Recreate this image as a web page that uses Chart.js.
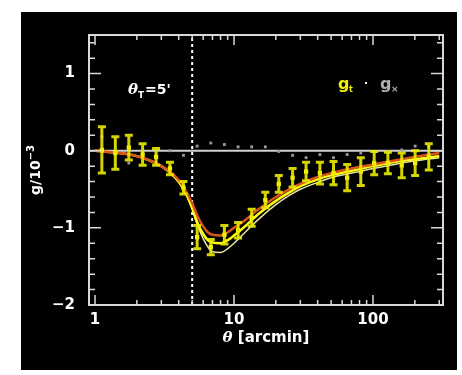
<!DOCTYPE html>
<html>
<head>
<meta charset="utf-8">
<script src="https://cdn.jsdelivr.net/npm/chart.js@4.4.1/dist/chart.umd.min.js"></script>
<style>
  html, body { margin: 0; padding: 0; background: #fff; width: 462px; height: 375px; overflow: hidden; }
  #panel { position: absolute; left: 21px; top: 12px; width: 436px; height: 358px; background: #000; }
  canvas { display: block; }
</style>
</head>
<body>
<div id="panel"><canvas id="c" width="436" height="358"></canvas></div>
<script>
// Measured tangential shear g_t and cross shear g_x (units of 1e-3) versus separation theta [arcmin]
const theta = [1.12, 1.40, 1.75, 2.20, 2.75, 3.46, 4.33, 5.43, 6.81, 8.53, 10.7, 13.4, 16.8,
               21.0, 26.4, 33.0, 41.5, 52.0, 65.2, 81.7, 102, 128, 161, 201, 252];
const gt    = [0.01, -0.03, 0.04, -0.05, -0.08, -0.23, -0.48, -1.12, -1.25, -1.09, -1.03, -0.87, -0.64,
               -0.43, -0.35, -0.27, -0.29, -0.29, -0.35, -0.27, -0.16, -0.16, -0.19, -0.16, -0.08];
const gtErr = [0.30, 0.21, 0.16, 0.14, 0.11, 0.08, 0.08, 0.15, 0.10, 0.12, 0.10, 0.11, 0.10,
               0.11, 0.12, 0.12, 0.14, 0.15, 0.17, 0.18, 0.15, 0.14, 0.16, 0.16, 0.17];
const gx    = [0.18, -0.04, -0.16, -0.03, 0.00, 0.00, -0.06, 0.06, 0.10, 0.08, 0.05, 0.05, 0.05,
               -0.01, -0.06, -0.09, -0.05, -0.09, -0.05, -0.03, -0.01, -0.01, 0.01, 0.06, 0.05];

// Model curves sampled in theta
const modelTheta  = [1, 1.5, 2, 2.5, 3, 3.5, 4, 4.5, 5, 5.5, 6, 6.5, 7, 8, 9, 10, 12, 15, 20, 25, 30, 40, 50, 70, 100, 150, 200, 300];
const modelRed    = [0, -0.03, -0.07, -0.13, -0.20, -0.28, -0.38, -0.52, -0.68, -0.86, -0.98, -1.06, -1.09, -1.10, -1.06, -1.00,
                     -0.90, -0.76, -0.60, -0.50, -0.43, -0.34, -0.29, -0.23, -0.18, -0.12, -0.08, -0.03];
const modelYellow = [0, -0.03, -0.07, -0.13, -0.20, -0.29, -0.40, -0.55, -0.74, -0.95, -1.08, -1.16, -1.19, -1.20, -1.16, -1.10,
                     -0.98, -0.82, -0.65, -0.54, -0.46, -0.37, -0.32, -0.26, -0.20, -0.14, -0.11, -0.07];
const modelPale   = [0, -0.03, -0.07, -0.13, -0.20, -0.29, -0.41, -0.56, -0.76, -0.98, -1.14, -1.25, -1.31, -1.32, -1.27, -1.20,
                     -1.06, -0.89, -0.70, -0.58, -0.50, -0.41, -0.35, -0.29, -0.23, -0.17, -0.13, -0.09];

// Axis ticks
const xMajor = [1, 10, 100];
const xMinor = [2, 3, 4, 5, 6, 7, 8, 9, 20, 30, 40, 50, 60, 70, 80, 90, 200, 300];
const yMajor = [-2, -1, 0, 1];
const yMinor = [-1.8, -1.6, -1.4, -1.2, -0.8, -0.6, -0.4, -0.2, 0.2, 0.4, 0.6, 0.8, 1.2, 1.4];
const thetaT = 5;

const pts = (xs, ys) => xs.map((v, i) => ({ x: v, y: ys[i] }));
const FONT = '"DejaVu Sans", sans-serif';
const AXIS = '#d9d9d9';

const decorations = {
  id: 'decorations',
  beforeDatasetsDraw(chart) {
    const { ctx, chartArea: a, scales: { x, y } } = chart;
    ctx.save();
    // zero line
    const y0 = y.getPixelForValue(0);
    ctx.strokeStyle = '#d0d0d0';
    ctx.lineWidth = 2;
    ctx.beginPath(); ctx.moveTo(a.left, y0); ctx.lineTo(a.right, y0); ctx.stroke();
    // vertical dotted line at theta_T
    const xt = x.getPixelForValue(thetaT);
    ctx.strokeStyle = '#ffffff';
    ctx.setLineDash([3, 3]);
    ctx.beginPath(); ctx.moveTo(xt, a.bottom); ctx.lineTo(xt, a.top); ctx.stroke();
    ctx.restore();
  },
  afterDatasetsDraw(chart) {
    const { ctx, scales: { x, y } } = chart;
    ctx.save();
    // error bars on g_t
    ctx.strokeStyle = 'rgba(235,235,0,0.9)';
    ctx.lineWidth = 3;
    for (let i = 0; i < theta.length; i++) {
      const px = x.getPixelForValue(theta[i]);
      const top = y.getPixelForValue(gt[i] + gtErr[i]);
      const bot = y.getPixelForValue(gt[i] - gtErr[i]);
      ctx.beginPath();
      ctx.moveTo(px, top); ctx.lineTo(px, bot);
      ctx.moveTo(px - 4, top); ctx.lineTo(px + 4, top);
      ctx.moveTo(px - 4, bot); ctx.lineTo(px + 4, bot);
      ctx.stroke();
    }
    ctx.restore();
  },
  afterDraw(chart) {
    const { ctx, chartArea: a, scales: { x, y } } = chart;
    ctx.save();
    // frame
    ctx.strokeStyle = AXIS;
    ctx.lineWidth = 2;
    ctx.strokeRect(a.left, a.top, a.right - a.left, a.bottom - a.top);
    // inward ticks
    ctx.lineWidth = 1.5;
    ctx.beginPath();
    const xt = (v, len) => {
      const px = x.getPixelForValue(v);
      ctx.moveTo(px, a.bottom); ctx.lineTo(px, a.bottom - len);
      ctx.moveTo(px, a.top); ctx.lineTo(px, a.top + len);
    };
    const yt = (v, len) => {
      const py = y.getPixelForValue(v);
      ctx.moveTo(a.left, py); ctx.lineTo(a.left + len, py);
      ctx.moveTo(a.right, py); ctx.lineTo(a.right - len, py);
    };
    xMajor.forEach(v => xt(v, 10));
    xMinor.forEach(v => xt(v, 5));
    yMajor.forEach(v => yt(v, 12));
    yMinor.forEach(v => yt(v, 6));
    ctx.stroke();

    // axis titles
    ctx.fillStyle = '#ffffff';
    ctx.textBaseline = 'alphabetic';
    const cx = (a.left + a.right) / 2;
    ctx.font = 'italic bold 15px "DejaVu Serif", serif';
    const wTh = ctx.measureText('θ').width;
    ctx.font = 'bold 15px ' + FONT;
    const wRest = ctx.measureText(' [arcmin]').width;
    let sx = cx - (wTh + wRest) / 2;
    ctx.font = 'italic bold 15px "DejaVu Serif", serif';
    ctx.fillText('θ', sx, 330);
    ctx.font = 'bold 15px ' + FONT;
    ctx.fillText(' [arcmin]', sx + wTh, 330);

    // y title, rotated
    ctx.save();
    ctx.translate(19, (a.top + a.bottom) / 2);
    ctx.rotate(-Math.PI / 2);
    ctx.font = 'bold 14px ' + FONT;
    const main = 'g/10';
    ctx.font = 'bold 10px ' + FONT;
    const wSup = ctx.measureText('−3').width;
    ctx.font = 'bold 14px ' + FONT;
    const wMain = ctx.measureText(main).width;
    const y0 = -(wMain + wSup) / 2;
    ctx.fillText(main, y0, 0);
    ctx.font = 'bold 10px ' + FONT;
    ctx.fillText('−3', y0 + wMain, -6);
    ctx.restore();

    // theta_T annotation
    ctx.font = 'italic bold 15px "DejaVu Serif", serif';
    ctx.fillText('θ', 107, 82);
    ctx.font = 'bold 9px ' + FONT;
    ctx.fillText('T', 117, 86);
    ctx.font = 'bold 14px ' + FONT;
    ctx.fillText("=5'", 124, 82);

    // legend: g_t . g_x
    ctx.font = 'bold 16px ' + FONT;
    ctx.fillStyle = '#f0f000';
    ctx.fillText('g', 317, 77);
    ctx.font = 'bold 8px ' + FONT;
    ctx.fillText('t', 328, 80);
    ctx.fillStyle = '#ffffff';
    ctx.fillRect(344, 70, 2, 2);
    ctx.fillStyle = '#b0b0b0';
    ctx.font = 'bold 16px ' + FONT;
    ctx.fillText('g', 359, 77);
    ctx.font = 'bold 9px ' + FONT;
    ctx.fillText('×', 370, 80);
    ctx.restore();
  }
};

new Chart(document.getElementById('c'), {
  data: {
    datasets: [
      { type: 'scatter', label: 'g_t', data: pts(theta, gt), order: 0,
        pointStyle: 'rect', pointRadius: 3, backgroundColor: '#ffff00', borderColor: '#ffff00', borderWidth: 0 },
      { type: 'scatter', label: 'g_x', data: pts(theta, gx), order: 1,
        pointStyle: 'rect', pointRadius: 2, backgroundColor: '#9a9a9a', borderColor: '#9a9a9a', borderWidth: 0 },
      { type: 'line', label: 'model 1', data: pts(modelTheta, modelRed), order: 2,
        borderColor: '#d9541c', borderWidth: 2.5, pointRadius: 0, cubicInterpolationMode: 'monotone', fill: false },
      { type: 'line', label: 'model 2', data: pts(modelTheta, modelYellow), order: 3,
        borderColor: '#ffff10', borderWidth: 2.5, pointRadius: 0, cubicInterpolationMode: 'monotone', fill: false },
      { type: 'line', label: 'model 3', data: pts(modelTheta, modelPale), order: 4,
        borderColor: '#e6e6a0', borderWidth: 1.5, pointRadius: 0, cubicInterpolationMode: 'monotone', fill: false }
    ]
  },
  options: {
    responsive: false,
    animation: false,
    devicePixelRatio: 1,
    layout: { padding: { left: 0, top: 23, right: 14, bottom: 0 } },
    plugins: { legend: { display: false }, tooltip: { enabled: false } },
    scales: {
      x: {
        type: 'logarithmic', min: 0.905, max: 319,
        grid: { display: false, drawTicks: false }, border: { display: false },
        afterBuildTicks: s => { s.ticks = xMajor.map(v => ({ value: v })); },
        afterFit: s => { s.height = 65; },
        ticks: { color: '#ffffff', font: { family: FONT, size: 15, weight: 'bold' }, padding: 6,
                 maxRotation: 0, autoSkip: false, callback: v => String(v) }
      },
      y: {
        type: 'linear', min: -2, max: 1.5,
        grid: { display: false, drawTicks: false }, border: { display: false },
        afterBuildTicks: s => { s.ticks = yMajor.map(v => ({ value: v })); },
        afterFit: s => { s.width = 68; },
        ticks: { color: '#ffffff', font: { family: FONT, size: 15, weight: 'bold' }, padding: 14,
                 callback: v => (v < 0 ? '\u2212' + (-v) : String(v)) }
      }
    }
  },
  plugins: [decorations]
});
</script>
</body>
</html>
